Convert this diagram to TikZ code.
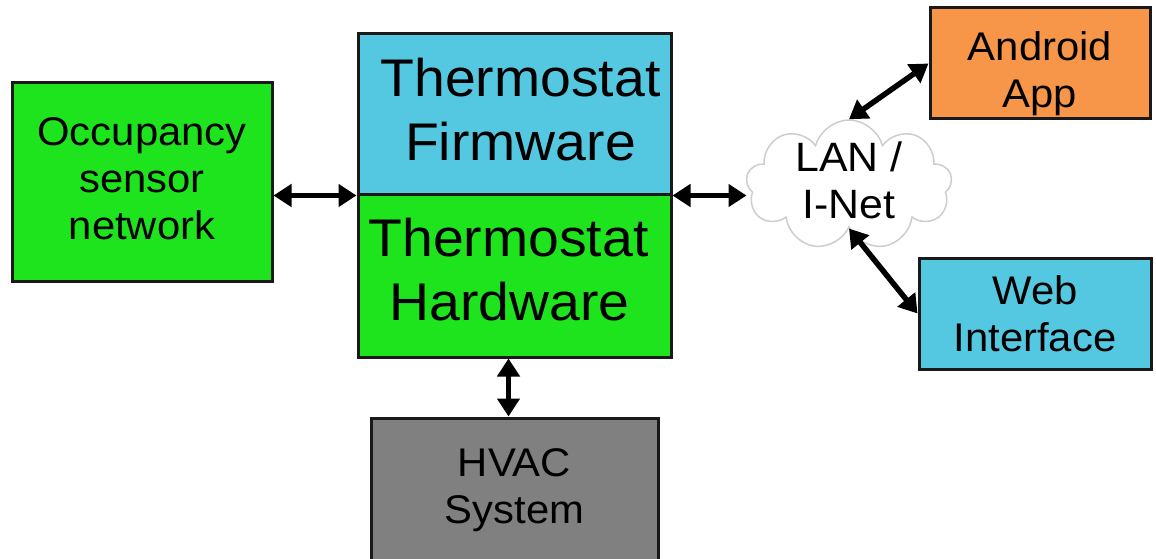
\documentclass[tikz,border=0pt]{standalone}
\usepackage{fontspec}
\setmainfont[FakeStretch=1.045]{Liberation Sans}
\usepackage{tikz}
\usetikzlibrary{arrows.meta,shapes.symbols}
\definecolor{boxgreen}{RGB}{30,228,30}
\definecolor{boxblue}{RGB}{85,200,225}
\definecolor{boxorange}{RGB}{247,150,72}
\definecolor{boxgray}{RGB}{128,128,128}
\definecolor{cloudline}{RGB}{205,205,205}
\tikzstyle{block} = [rectangle, draw=black!90, line width=3pt, inner sep=0pt, align=center, font=\fontsize{40}{47}\selectfont]
\tikzstyle{bigblock} = [block, font=\fontsize{53}{63.6}\selectfont]
\tikzstyle{link} = [line width=5.5pt, {Triangle[length=18pt,width=22pt]}-{Triangle[length=18pt,width=22pt]}]

\begin{document}
\begin{tikzpicture}[x=1pt,y=-1pt]
\useasboundingbox (0,0) rectangle (1156,559);

    \node[block, fill=boxgreen, minimum width=260pt, minimum height=198pt, text depth=6pt] (occ) at (142,182) {Occupancy\\sensor\\network};
    \node[bigblock, fill=boxblue, minimum width=313pt, minimum height=160pt, text depth=10pt] (fw) at (514.5,114) {\hspace{12pt}Thermostat\\\hspace{12pt}Firmware};
    \node[bigblock, fill=boxgreen, minimum width=313pt, minimum height=163pt, text depth=12pt] (hw) at (514.5,275.5) {Thermostat\hspace*{12pt}\\Hardware\hspace*{10pt}};
    \node[block, fill=boxgray, minimum width=287pt, minimum height=144pt] (hvac) at (514.5,490) {HVAC\\System};

    \node[cloud, draw=cloudline, line width=1.5pt, fill=white, cloud puffs=9, cloud ignores aspect, inner xsep=0pt, inner ysep=-24pt,
        minimum width=206pt, minimum height=130pt, align=center, font=\fontsize{41}{47}\selectfont, text depth=10pt] (net) at (849,185) {LAN /\\I-Net};

    \node[block, fill=boxorange, minimum width=220pt, minimum height=111pt, text height=88pt, text depth=0pt] (app) at (1040,63.5) {Android\\App};
    \node[block, fill=boxblue, minimum width=232pt, minimum height=111pt] (web) at (1035,313.5) {Web\\Interface};

    \draw[link] (occ.east |- fw.south west) -- (fw.south west);
    \draw[link] (fw.south east) -- (fw.south east -| net.west);
    \draw[link] (net.north) -- (app.west);
    \draw[link] (net.south) -- (web.west);
    \draw[link] ([xshift=-6pt]hw.south) -- ([xshift=-6pt]hvac.north);
\end{tikzpicture}
\end{document}
